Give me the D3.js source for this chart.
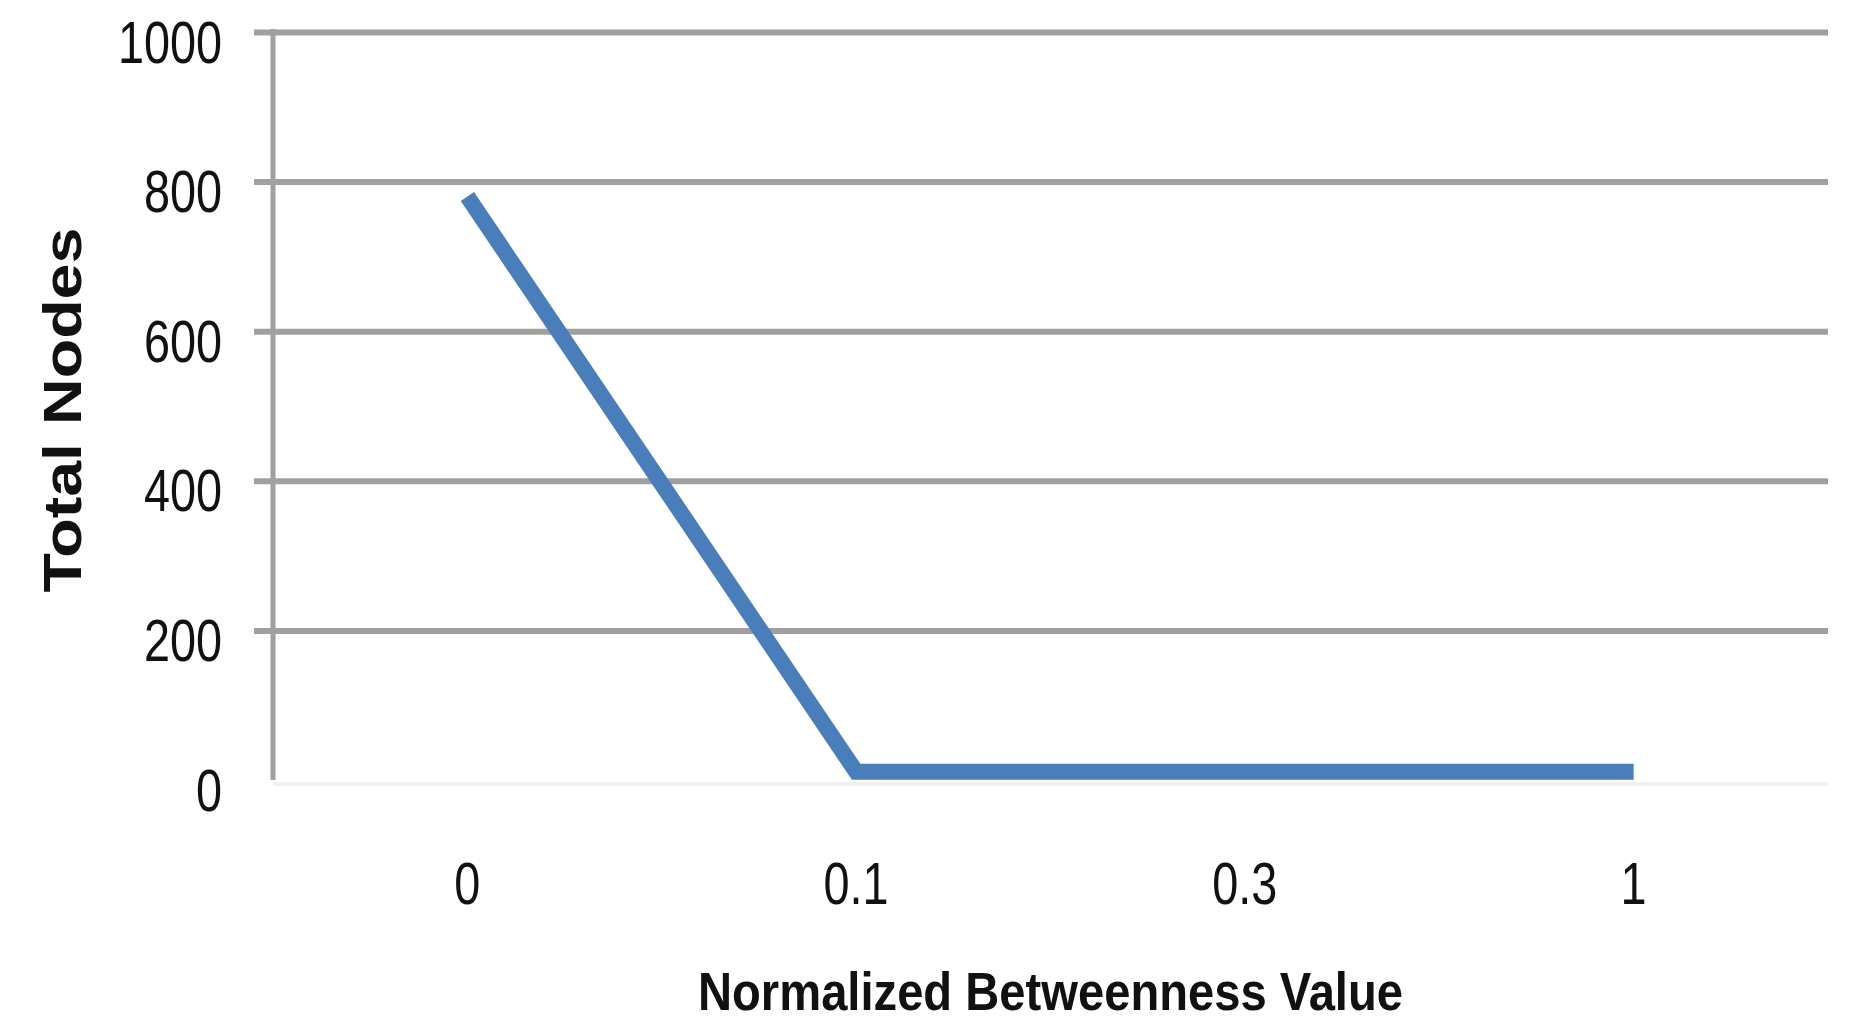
<!DOCTYPE html>
<html>
<head>
<meta charset="utf-8">
<script src="https://cdn.jsdelivr.net/npm/d3@7"></script>
<style>
  html, body { margin: 0; padding: 0; background: #ffffff; }
  svg { display: block; }
  text { font-family: "Liberation Sans", Arial, sans-serif; fill: #111; }
</style>
</head>
<body>
<svg id="chart" width="1865" height="1023"></svg>
<script>
const categories = ["0", "0.1", "0.3", "1"];
const totalNodes = [780, 11, 11, 11];
const yTicks = [0, 200, 400, 600, 800, 1000];
const xTitle = "Normalized Betweenness Value";
const yTitle = "Total Nodes";

const svg = d3.select("#chart");
const W = 1865, H = 1023;
svg.append("rect").attr("width", W).attr("height", H).attr("fill", "#ffffff");

const plotLeft = 273, plotRight = 1828, plotTop = 32, plotBottom = 780;

const x = d3.scaleBand().domain(categories).range([plotLeft, plotRight]);
const y = d3.scaleLinear().domain([0, 1000]).range([plotBottom, plotTop]);

// faint x baseline
svg.append("line")
  .attr("x1", plotLeft).attr("x2", plotRight)
  .attr("y1", y(0) + 4).attr("y2", y(0) + 4)
  .attr("stroke", "#f0f0f0").attr("stroke-width", 4);

// y axis with gridlines
const yAxisG = svg.append("g")
  .attr("transform", `translate(254,0)`)
  .call(d3.axisLeft(y).tickValues(yTicks).tickSize(-(plotRight - 254)).tickPadding(32).tickFormat(d3.format("d")));
yAxisG.select(".domain").remove();
yAxisG.selectAll(".tick line")
  .attr("stroke", d => d === 0 ? "none" : "#a0a0a0")
  .attr("stroke-width", 6);
yAxisG.selectAll(".tick text")
  .attr("font-size", 60)
  .attr("dy", "0.5em")
  .attr("fill", "#111");

// vertical axis line
svg.append("line")
  .attr("x1", plotLeft).attr("x2", plotLeft)
  .attr("y1", y(1000) - 3).attr("y2", y(0))
  .attr("stroke", "#a0a0a0").attr("stroke-width", 5);

// x axis labels
const xAxisG = svg.append("g")
  .attr("transform", `translate(0,${plotBottom})`)
  .call(d3.axisBottom(x).tickSize(0));
xAxisG.select(".domain").remove();
xAxisG.selectAll(".tick text")
  .attr("font-size", 60)
  .attr("y", 124)
  .attr("dy", 0)
  .attr("fill", "#111");

// data line
const line = d3.line()
  .x((d, i) => x(categories[i]) + x.bandwidth() / 2)
  .y(d => y(d));
svg.append("path")
  .datum(totalNodes)
  .attr("d", line)
  .attr("fill", "none")
  .attr("stroke", "#4a7ebb")
  .attr("stroke-width", 16)
  .attr("stroke-linejoin", "miter")
  .attr("stroke-linecap", "butt");

// titles
svg.append("text")
  .attr("class", "title")
  .attr("x", (plotLeft + plotRight) / 2)
  .attr("y", 1010)
  .attr("text-anchor", "middle")
  .attr("font-size", 54)
  .attr("font-weight", "bold")
  .attr("textLength", 705)
  .attr("lengthAdjust", "spacingAndGlyphs")
  .text(xTitle);

svg.append("text")
  .attr("class", "title")
  .attr("transform", `translate(81,410) rotate(-90)`)
  .attr("text-anchor", "middle")
  .attr("font-size", 53)
  .attr("font-weight", "bold")
  .attr("textLength", 365)
  .attr("lengthAdjust", "spacingAndGlyphs")
  .text(yTitle);

// compress tick labels horizontally (condensed look of the original)
svg.selectAll(".tick text").each(function() {
  const len = this.getComputedTextLength();
  d3.select(this).attr("textLength", len * 0.78).attr("lengthAdjust", "spacingAndGlyphs");
});
</script>
</body>
</html>
